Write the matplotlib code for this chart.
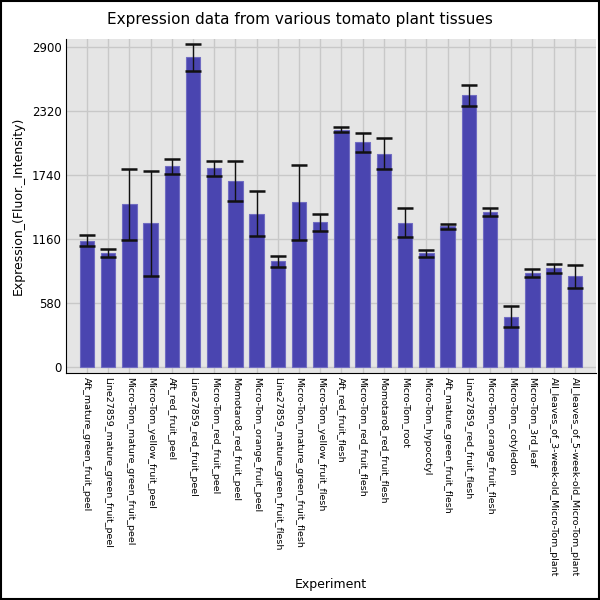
import numpy as np
import matplotlib
matplotlib.use("Agg")
import matplotlib.pyplot as plt

# tissue names as on the x axis
tissues = [
    "Aft_mature_green_fruit_peel",
    "Line27859_mature_green_fruit_peel",
    "Micro-Tom_mature_green_fruit_peel",
    "Micro-Tom_yellow_fruit_peel",
    "Aft_red_fruit_peel",
    "Line27859_red_fruit_peel",
    "Micro-Tom_red_fruit_peel",
    "Momotaro8_red_fruit_peel",
    "Micro-Tom_orange_fruit_peel",
    "Line27859_mature_green_fruit_flesh",
    "Micro-Tom_mature_green_fruit_flesh",
    "Micro-Tom_yellow_fruit_flesh",
    "Aft_red_fruit_flesh",
    "Micro-Tom_red_fruit_flesh",
    "Momotaro8_red_fruit_flesh",
    "Micro-Tom_root",
    "Micro-Tom_hypocotyl",
    "Aft_mature_green_fruit_flesh",
    "Line27859_red_fruit_flesh",
    "Micro-Tom_orange_fruit_flesh",
    "Micro-Tom_cotyledon",
    "Micro-Tom_3rd_leaf",
    "All_leaves_of_3-week-old_Micro-Tom_plant",
    "All_leaves_of_5-week-old_Micro-Tom_plant",
]

# mean expression and error
expression = [1143, 1028, 1470, 1298, 1815, 2803, 1797, 1685, 1385, 955, 1488, 1308,
              2148, 2033, 1932, 1305, 1027, 1272, 2460, 1406, 453, 845, 890, 818]
error = [47, 34, 320, 474, 69, 122, 71, 183, 203, 48, 340, 79,
         25, 86, 140, 133, 34, 21, 94, 36, 94, 36, 43, 101]

yticks = [0, 580, 1160, 1740, 2320, 2900]

fig = plt.figure(figsize=(6, 6), dpi=100)
ax = fig.add_axes([0.1095, 0.3788, 0.8838, 0.5562])
ax.set_facecolor("#e5e5e5")

x = np.arange(len(tissues))
ax.set_axisbelow(True)
ax.grid(True, color="#c8c8c8", linewidth=1)
ax.bar(x, expression, width=0.68, color="#4a45b0", edgecolor="#706cc2", linewidth=0.8, zorder=2)
ax.errorbar(x, expression, yerr=error, fmt="none", ecolor="#111111", elinewidth=1,
            capsize=5.5, capthick=1.8, zorder=3)

ax.set_xlim(-1, len(tissues))
ax.set_ylim(-55, 2970)
ax.set_yticks(yticks)
ax.set_yticklabels([str(t) for t in yticks], fontsize=8.5)
ax.set_xticks(x)
ax.set_xticklabels(tissues, rotation=270, fontsize=6.8, ha="center", va="top")
ax.tick_params(length=0, pad=3)

for s in ["top", "right"]:
    ax.spines[s].set_visible(False)
ax.spines["left"].set_color("black")
ax.spines["bottom"].set_color("black")

ax.set_ylabel("Expression_(Fluor._Intensity)", fontsize=9)
ax.set_xlabel("Experiment", fontsize=9)
ax.xaxis.set_label_coords(0.5, -0.614)
ax.yaxis.set_label_coords(-0.077, 0.5)
fig.text(0.5, 0.967, "Expression data from various tomato plant tissues", ha="center", va="center", fontsize=11)

# black frame round the whole figure
fig.patches.append(plt.Rectangle((0.001, 0.001), 0.997, 0.997, transform=fig.transFigure,
                                 fill=False, edgecolor="black", linewidth=1.5))

fig.savefig("out.png", dpi=100)
